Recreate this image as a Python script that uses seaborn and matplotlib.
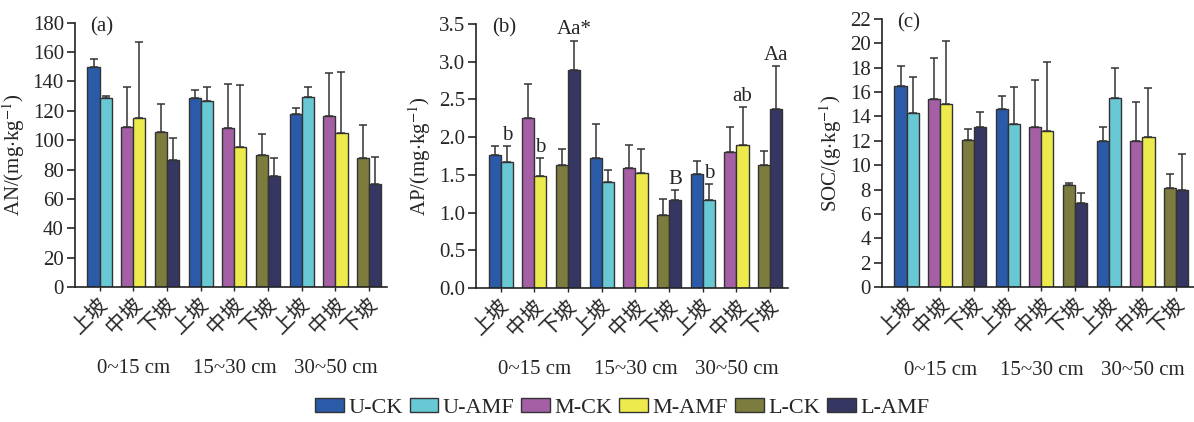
import numpy as np
import pandas as pd
import matplotlib
matplotlib.use("Agg")
import matplotlib.pyplot as plt
import seaborn as sns
from matplotlib.patches import Patch
from matplotlib.transforms import blended_transform_factory

sns.set_style("ticks")
plt.rcParams['font.family'] = ['Liberation Serif', 'Noto Sans CJK SC']
plt.rcParams['mathtext.fontset'] = 'stix'
plt.rcParams['axes.unicode_minus'] = False
plt.rcParams['font.size'] = 15

# ---------------------------------------------------------------- data
slopes = ['上坡', '中坡', '下坡']
depths = ['0~15 cm', '15~30 cm', '30~50 cm']
series = ['U-CK', 'U-AMF', 'M-CK', 'M-AMF', 'L-CK', 'L-AMF']
series_colors = ['#2b5aa8', '#68c8d4', '#a55fa5', '#ecea4c', '#7c7c3e', '#363662']

# 9 groups = 3 depths x (上坡, 中坡, 下坡); CK and AMF bar in each group
an_ck = [150, 109, 105.5, 129, 108.6, 89.8, 118, 116.6, 88]
an_ck_err = [5.5, 27.4, 19, 5.3, 29.4, 14.2, 3.8, 29.4, 22.5]
an_amf = [128.6, 115, 86.4, 126.6, 95.2, 75.7, 129.3, 104.8, 70.2]
an_amf_err = [1.4, 52, 15.4, 9.4, 42.3, 12, 7.1, 41.8, 18.2]

ap_ck = [1.77, 2.25, 1.63, 1.73, 1.59, 0.97, 1.51, 1.81, 1.63]
ap_ck_err = [0.11, 0.46, 0.21, 0.44, 0.30, 0.21, 0.18, 0.33, 0.19]
ap_amf = [1.67, 1.48, 2.89, 1.40, 1.52, 1.17, 1.17, 1.90, 2.38]
ap_amf_err = [0.21, 0.24, 0.39, 0.17, 0.32, 0.13, 0.21, 0.50, 0.56]
ap_amf_letters = ['b', 'b', 'Aa*', '', '', 'B', 'b', 'ab', 'Aa']

soc_ck = [16.5, 15.4, 12.1, 14.6, 13.1, 8.4, 12.0, 12.0, 8.1]
soc_ck_err = [1.6, 3.4, 0.9, 1.1, 3.9, 0.1, 1.1, 3.2, 1.2]
soc_amf = [14.3, 15.0, 13.1, 13.4, 12.8, 6.9, 15.5, 12.3, 8.0]
soc_amf_err = [2.9, 5.2, 1.3, 3.0, 5.7, 0.8, 2.5, 4.0, 2.9]

EDGE = '#333333'


def draw_panel(ax, ck, ck_err, amf, amf_err, ylim, ystep, ylabel, tag, letters=None):
    groups = [f'g{i}' for i in range(9)]
    df = pd.DataFrame({
        'group': groups * 2,
        'trt': ['CK'] * 9 + ['AMF'] * 9,
        'value': list(ck) + list(amf),
    })
    sns.barplot(data=df, x='group', y='value', hue='trt', order=groups,
                hue_order=['CK', 'AMF'], width=0.72, gap=0, saturation=1,
                edgecolor=EDGE, linewidth=1.0, errorbar=None, legend=False, ax=ax)

    for k, (cont, errs) in enumerate(zip(ax.containers, [ck_err, amf_err])):
        xs, ys = [], []
        for g, bar in enumerate(cont):
            bar.set_facecolor(series_colors[2 * (g % 3) + k])
            xs.append(bar.get_x() + bar.get_width() / 2)
            ys.append(bar.get_height())
        ax.errorbar(xs, ys, yerr=[np.zeros(9), errs], fmt='none', ecolor=EDGE,
                    elinewidth=1.1, capsize=3, capthick=1.1, zorder=1)
        if k == 1 and letters is not None:
            for x, y, e, t in zip(xs, ys, errs, letters):
                if t:
                    ax.annotate(t, (x, y + e), xytext=(0, 1), textcoords='offset points',
                                ha='center', va='bottom', fontsize=15)

    ax.set_xlim(-0.73, 8.52)
    ax.set_ylim(*ylim)
    ax.set_yticks(np.arange(ylim[0], ylim[1] + ystep / 2, ystep))
    if ystep < 1:
        ax.set_yticklabels([f'{v:.1f}' for v in ax.get_yticks()])
    ax.set_xticks(range(9))
    ax.set_xticklabels(slopes * 3, rotation=45, ha='right', rotation_mode='anchor',
                       fontsize=15)
    ax.tick_params(axis='x', length=3, width=1, pad=3)
    ax.tick_params(axis='y', length=6, width=1.2, labelsize=15, pad=2)
    ax.set_xlabel('')
    ax.set_ylabel(ylabel, fontsize=15, labelpad=4)
    for s in ['left', 'bottom']:
        ax.spines[s].set_linewidth(1.2)
        ax.spines[s].set_color('#222222')
    sns.despine(ax=ax)

    tr = blended_transform_factory(ax.transData, ax.transAxes)
    for i, d in enumerate(depths):
        ax.text(3 * i + 1, -0.31, d, transform=tr, ha='center', va='center', fontsize=15)
    ax.text(0.05, 0.985, tag, transform=ax.transAxes, ha='left', va='center', fontsize=15)


fig = plt.figure(figsize=(11.94, 4.22), dpi=100)
ax_a = fig.add_axes([0.0628, 0.320, 0.261, 0.626])
ax_b = fig.add_axes([0.3987, 0.3175, 0.261, 0.6255])
ax_c = fig.add_axes([0.7387, 0.320, 0.261, 0.635])

draw_panel(ax_a, an_ck, an_ck_err, an_amf, an_amf_err, (0, 180), 20,
           r'AN/(mg$\cdot$kg$^{-1}$)', '(a)')
draw_panel(ax_b, ap_ck, ap_ck_err, ap_amf, ap_amf_err, (0, 3.5), 0.5,
           r'AP/(mg$\cdot$kg$^{-1}$)', '(b)', letters=ap_amf_letters)
draw_panel(ax_c, soc_ck, soc_ck_err, soc_amf, soc_amf_err, (0, 22), 2,
           r'SOC/(g$\cdot$kg$^{-1}$)', '(c)')

handles = [Patch(facecolor=c, edgecolor=EDGE, linewidth=1.0, label=s)
           for s, c in zip(series, series_colors)]
fig.legend(handles=handles, loc='center', bbox_to_anchor=(0.521, 0.033), ncol=6,
           frameon=False, fontsize=16, handlelength=1.3, handleheight=0.55,
           handletextpad=0.2, columnspacing=0.3)

fig.savefig('out.png', dpi=100)
